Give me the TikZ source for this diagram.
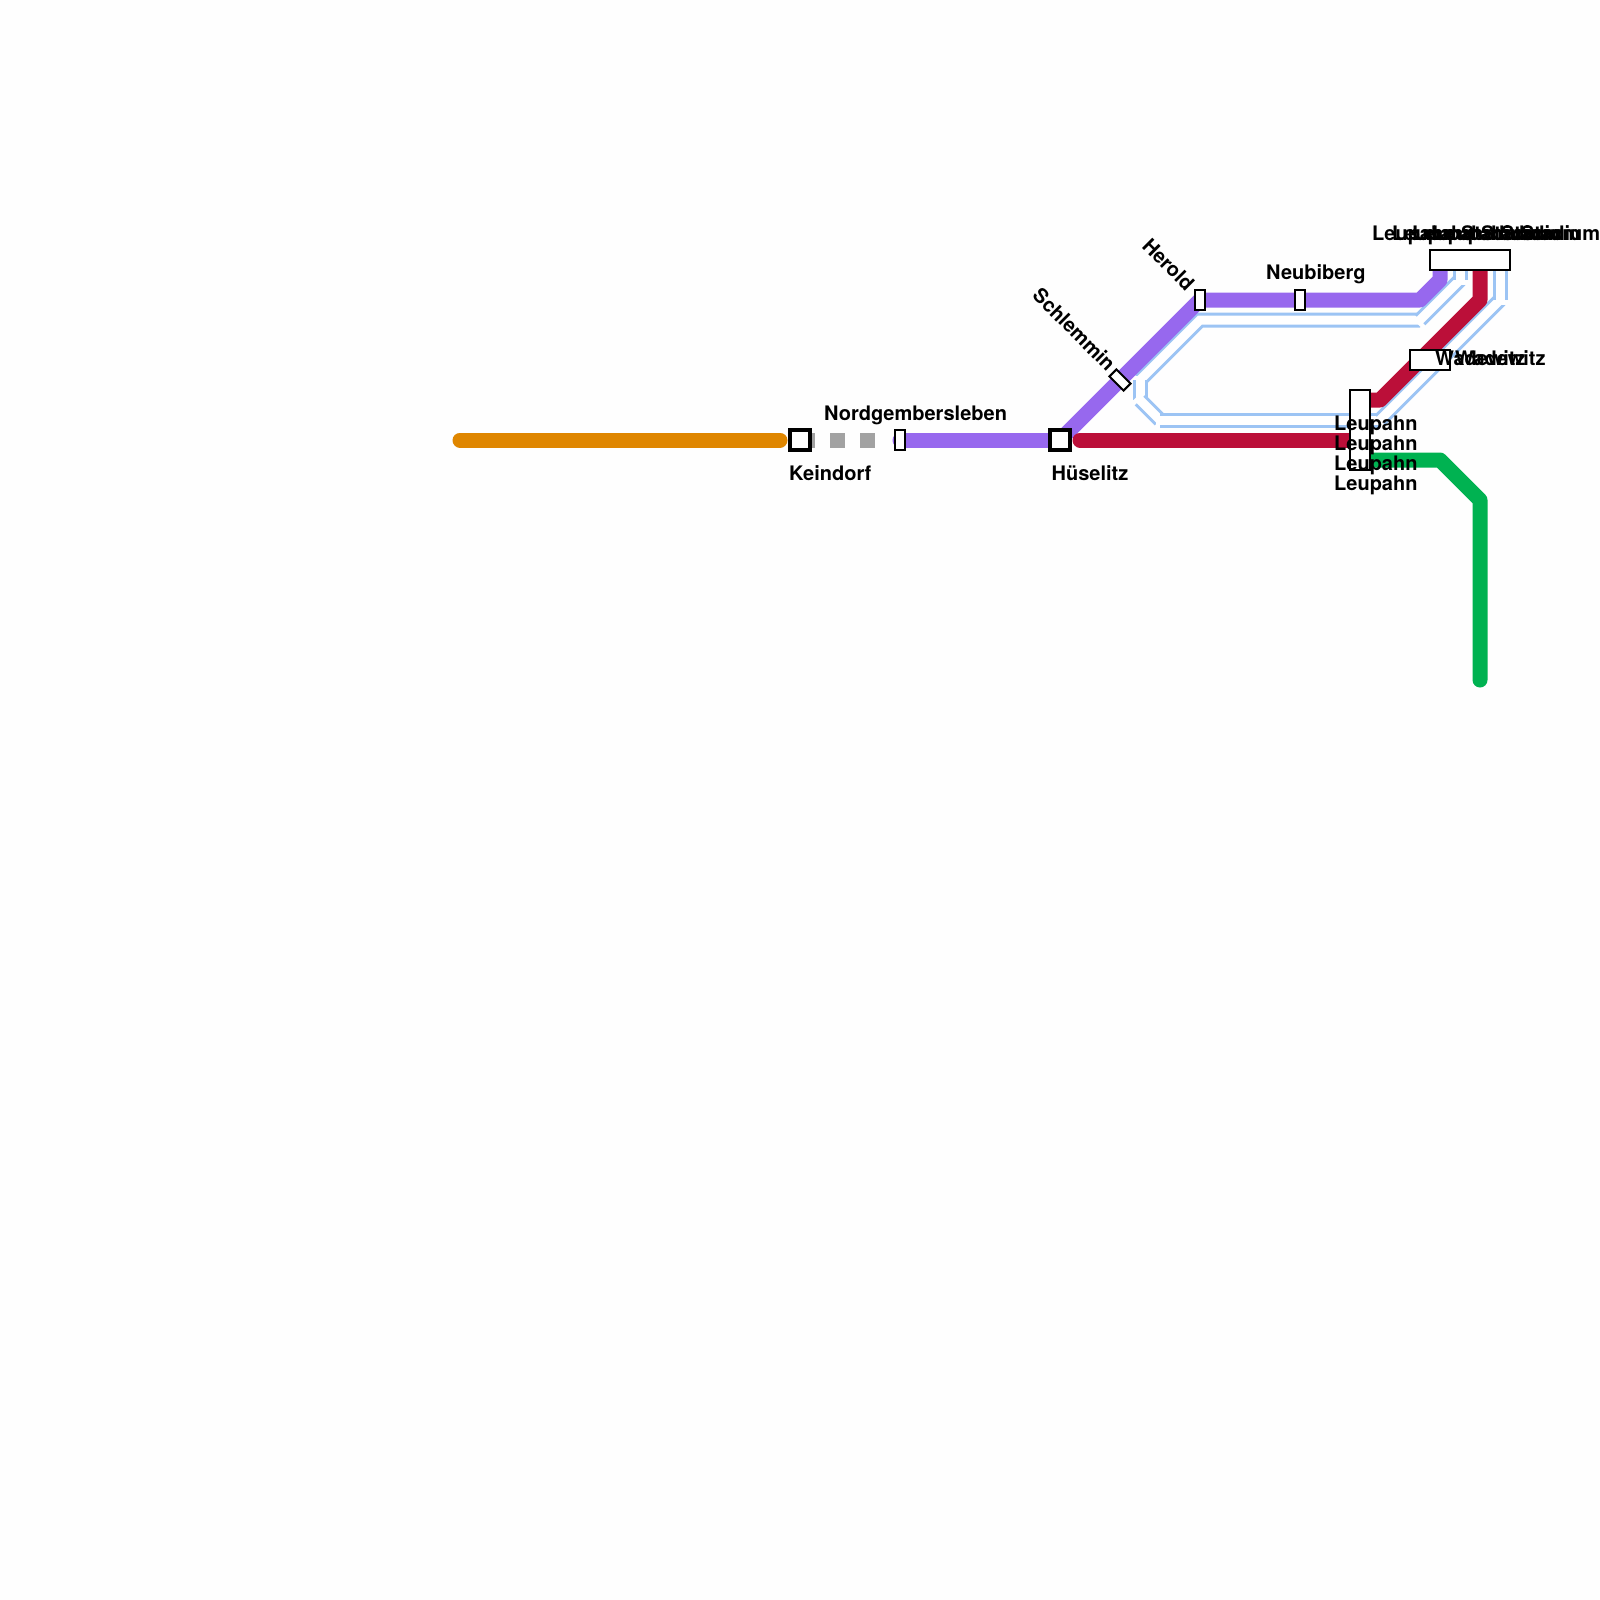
\documentclass[tikz,border=0pt]{standalone}
\usepackage{fontspec}
\setmainfont{TeX Gyre Heros}
\tikzset{
  lbl/.style={font=\fontsize{20}{20}\selectfont\bfseries,inner sep=0pt,text=black},
  metro/.style={line width=15pt,line join=round},
  st/.style={draw=black,fill=white,line width=2pt,inner sep=0pt,outer sep=0pt,minimum width=10pt,minimum height=20pt},
  ic/.style={draw=black,fill=white,line width=4pt,inner sep=0pt,outer sep=0pt,minimum width=20pt,minimum height=20pt},
  blo/.style={draw=lblue,line width=15pt},
  wht/.style={draw=white,line width=9pt,line cap=rect}
}
\definecolor{lblue}{HTML}{9CC4F4}
\definecolor{lpurple}{HTML}{9768EE}
\definecolor{lred}{HTML}{BB0F39}
\definecolor{lgreen}{HTML}{00B251}
\definecolor{lorange}{HTML}{DF8600}
\definecolor{lgray}{HTML}{A2A2A2}
\newcommand{\dbl}[1]{\draw[blo] #1; \draw[wht] #1;}
\begin{document}
\begin{tikzpicture}[x=1pt,y=-1pt]
\useasboundingbox (0,0) rectangle (1600,1600);
\fill[white!99.5!black] (0,0) rectangle (1600,1600);
\coordinate (k) at (800,440);
\coordinate (ge) at (888,440);
\coordinate (ng) at (900,440);
\coordinate (h) at (1060,440);
\coordinate (he) at (1200,300);
\coordinate (n) at (1300,300);
\coordinate (a1) at (1420,300);
\coordinate (a2) at (1440,280);
\coordinate (topP) at (1440,260);
\coordinate (r0) at (1080,440);
\coordinate (r1) at (1360,440);
\coordinate (r2) at (1360,400);
\coordinate (r3) at (1380,400);
\coordinate (r4) at (1480,300);
\coordinate (r5) at (1480,260);
\coordinate (g0) at (1360,460);
\coordinate (g1) at (1440,460);
\coordinate (g2) at (1480,500);
\coordinate (g3) at (1480,680);
\coordinate (o0) at (460,440);
\coordinate (o1) at (780,440);
% blue lines
\dbl{(1140,380) -- (1200,320) -- (1420,320)}
\dbl{(1420,320) -- (1460,280)}
\dbl{(1460,280) -- (1460,260)}
\dbl{(1140,380) -- (1140,400)}
\dbl{(1140,400) -- (1160,420)}
\dbl{(1160,420) -- (1380,420)}
\dbl{(1380,420) -- (1500,300)}
\dbl{(1500,300) -- (1500,260)}
% colored lines
\draw[metro,lorange,line cap=round] (o0) -- (o1);
\draw[metro,lgray,dash pattern=on 15pt off 15pt] (k) -- (ge);
\draw[metro,lpurple,line cap=round] (ng) -- (h);
\draw[metro,lpurple] (h) -- (he) -- (n) -- (a1) -- (a2) -- (topP);
\draw[metro,lred,line cap=round] (r0) -- (r1);
\draw[metro,lred] (r2) -- (r3) -- (r4) -- (r5);
\draw[metro,lgreen,line cap=round] (g0) -- (g1) -- (g2) -- (g3);
% stations
\node[ic] (keindorf) at (k) {};
\node[st] (nord) at (ng) {};
\node[ic] (hues) at (h) {};
\node[st,rotate=45] (schl) at (1120,380) {};
\node[st] (herold) at (he) {};
\node[st] (neub) at (n) {};
\node[st,minimum width=20pt,minimum height=80pt] (leup) at (1360,430) {};
\node[st,minimum width=40pt] (wade) at (1430,360) {};
\node[st,minimum width=80pt] (stad) at (1470,260) {};
% labels
\node[lbl,anchor=base west] at (789,480) {Keindorf};
\node[lbl,anchor=base west] at (824,420) {Nordgembersleben};
\node[lbl,anchor=base west] at (1051.5,480) {Hüselitz};
\node[lbl,anchor=base west] at (1266,279) {Neubiberg};
\node[lbl,anchor=base east,rotate=-45] at (1107,372.5) {Schlemmin};
\node[lbl,anchor=base east,rotate=-45] at (1186,292) {Herold};
\foreach \y in {430,450,470,490} \node[lbl,anchor=base west] at (1334,\y) {Leupahn};
\foreach \x in {1372,1392,1412,1432} \node[lbl,anchor=base west] at (\x,240) {Leupahn Stadium};
\foreach \x in {1435,1455} \node[lbl,anchor=base west] at (\x,365) {Wadewitz};
\end{tikzpicture}
\end{document}
